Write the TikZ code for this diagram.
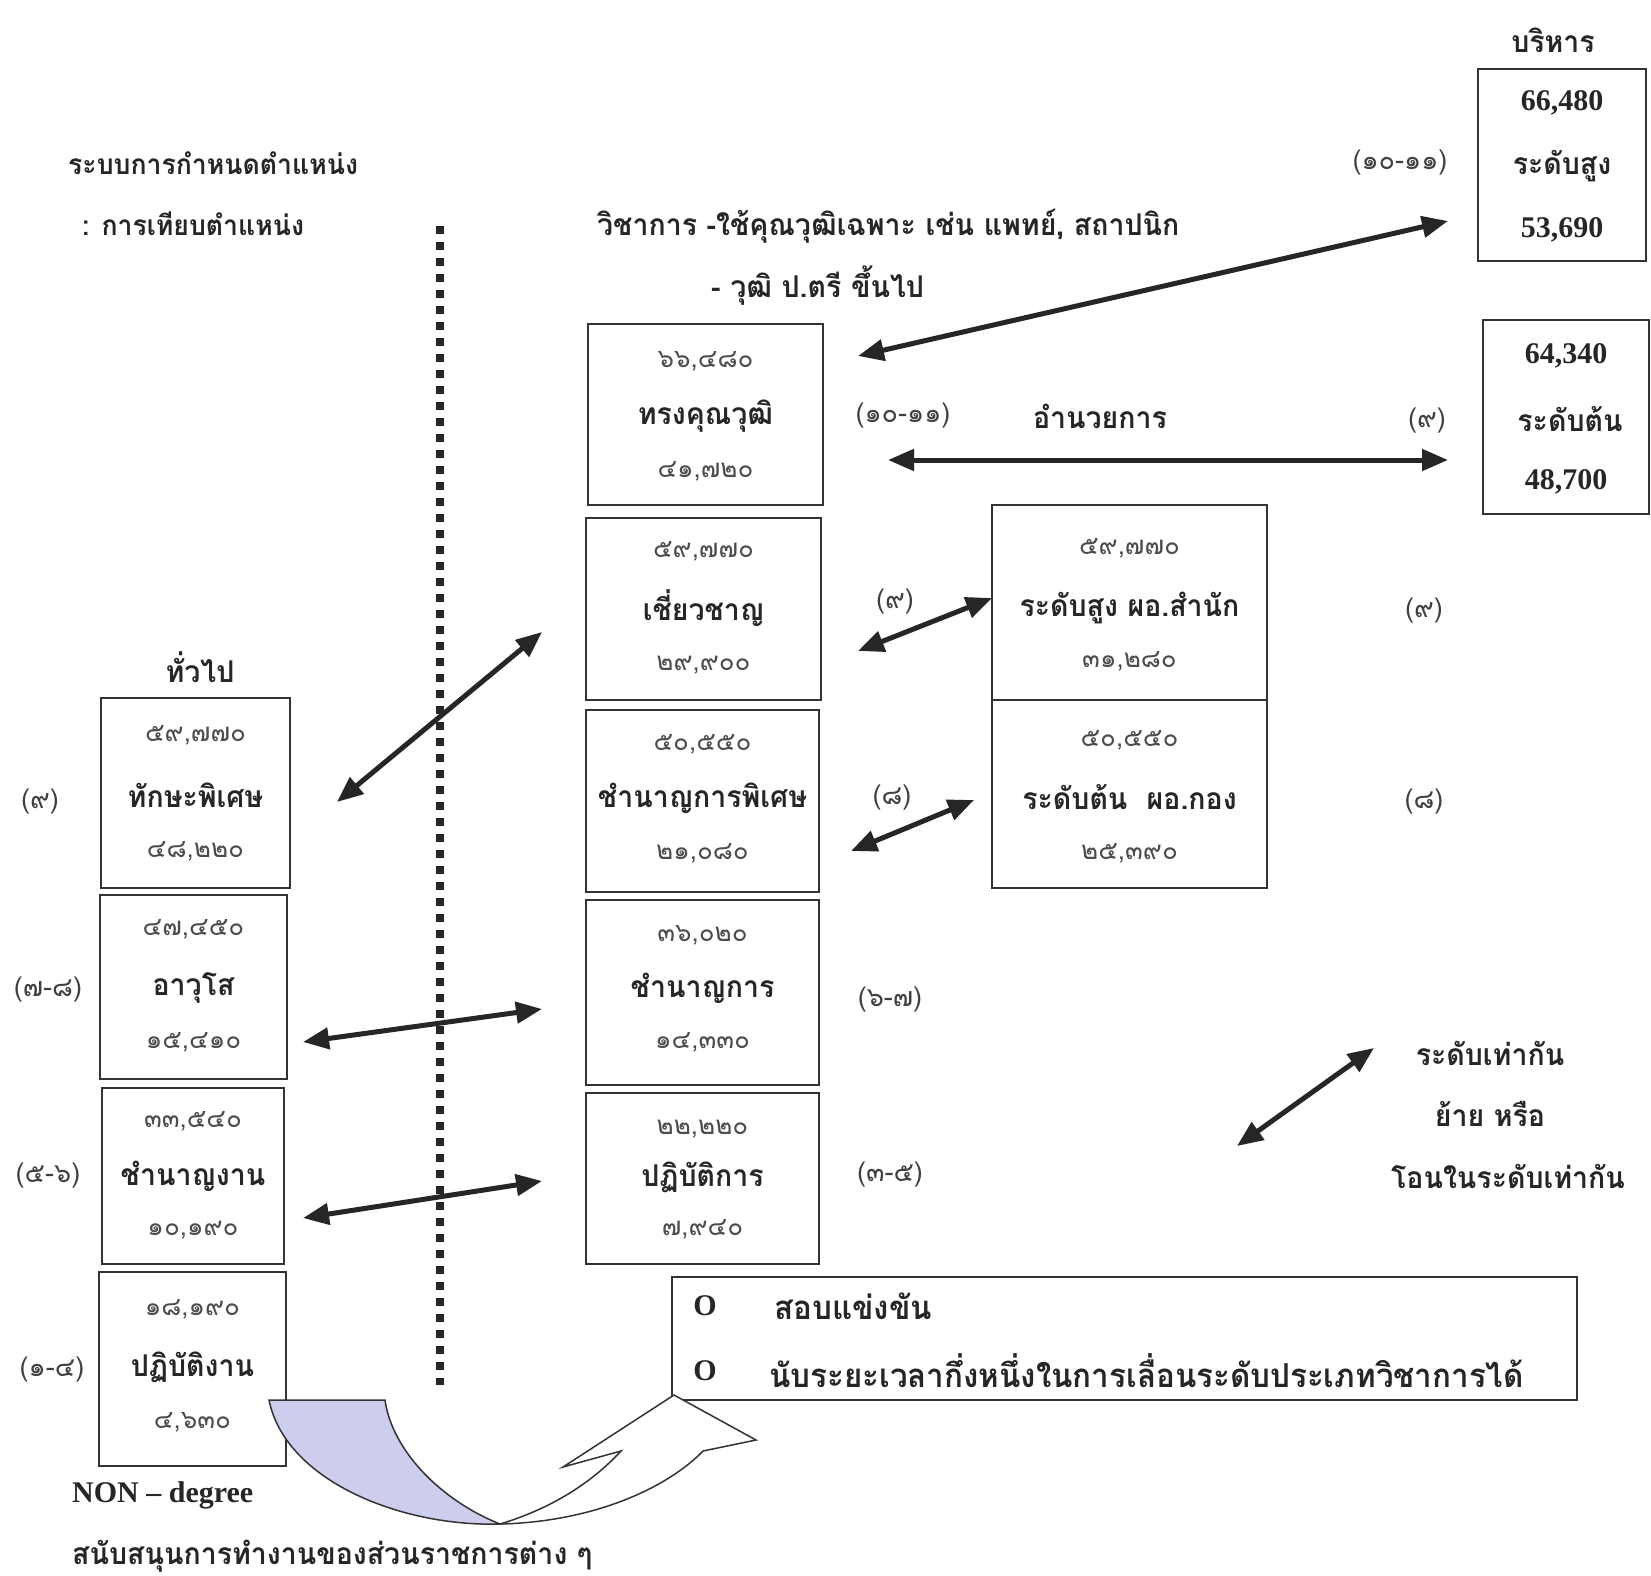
\documentclass[tikz,border=0pt]{standalone}
\usepackage{fontspec}
\setmainfont{Liberation Serif}
\newfontfamily\thai[Script=Thai]{Loma}
\newfontfamily\thaic[Script=Thai,FakeStretch=0.95]{Loma}
\usetikzlibrary{arrows.meta}
\definecolor{lav}{RGB}{205,205,238}
\tikzset{
  box/.style={draw=black!80, line width=2.2pt, inner sep=0pt},
  lbl/.style={font=\thaic\bfseries\fontsize{30}{34}\selectfont, text=black!85, inner sep=0pt},
  lbt/.style={font=\thaic\bfseries\fontsize{28}{32}\selectfont, text=black!85, inner sep=0pt},
  lbg/.style={font=\thaic\bfseries\fontsize{33}{36}\selectfont, text=black!85, inner sep=0pt},
  num/.style={font=\thai\fontsize{26}{30}\selectfont, text=black!70, inner sep=0pt},
  par/.style={font=\thai\fontsize{27}{30}\selectfont, text=black!75, inner sep=0pt},
  lat/.style={font=\bfseries\fontsize{30}{32}\selectfont, text=black!85, inner sep=0pt},
  dbl/.style={{Triangle[length=26pt,width=21pt]}-{Triangle[length=26pt,width=21pt]}, line width=5pt, draw=black!85},
}
\begin{document}
\begin{tikzpicture}[x=1pt,y=-1pt]
\useasboundingbox (0,0) rectangle (1651,1576);
\fill[white] (0,0) rectangle (1651,1576);

% titles
\node[lbt, anchor=west] (t1) at (68,163) {ระบบการกำหนดตำแหน่ง};
\node[lbt, anchor=west] (t2) at (82,224) {: การเทียบตำแหน่ง};
\node[lbl, anchor=west] (t3) at (597,226) {วิชาการ -ใช้คุณวุฒิเฉพาะ เช่น แพทย์, สถาปนิก};
\node[lbl, anchor=west] (t4) at (711,286) {- วุฒิ ป.ตรี ขึ้นไป};
\node[lbl] (t5) at (1553,40) {บริหาร};
\node[lbl] (t6) at (200,667) {ทั่วไป};
\node[lbl] (t7) at (1100,416) {อำนวยการ};

% dotted divider
\coordinate (dtop) at (440,226);
\coordinate (dbot) at (440,1385);
\draw[line width=7.5pt, dash pattern=on 7.5pt off 8.5pt, black!85] (dtop) -- (dbot);

% executive boxes
\node[box, minimum width=168pt, minimum height=192pt] (exhi) at (1562,165) {};
\node[lat] at (1562,103) {66,480};
\node[lbl] at (1562,166) {ระดับสูง};
\node[lat] at (1562,230) {53,690};
\node[box, minimum width=166pt, minimum height=194pt] (exlo) at (1566,417) {};
\node[lat] at (1566,356) {64,340};
\node[lbl] at (1570,419) {ระดับต้น};
\node[lat] at (1566,482) {48,700};
\node[par] at (1400,163) {(๑๐-๑๑)};
\node[par] at (1427,421) {(๙)};

% academic column
\node[box, minimum width=235pt, minimum height=181pt] (ts) at (705.5,414.5) {};
\node[num] at (705.5,361) {๖๖,๔๘๐};
\node[lbl] at (705.5,416) {ทรงคุณวุฒิ};
\node[num] at (705.5,471) {๔๑,๗๒๐};

\node[box, minimum width=235pt, minimum height=182pt] (cc) at (703.5,609) {};
\node[num] at (703.5,551) {๕๙,๗๗๐};
\node[lbl] at (703.5,608) {เชี่ยวชาญ};
\node[num] at (703.5,665) {๒๙,๙๐๐};

\node[box, minimum width=233pt, minimum height=182pt] (cp) at (702.5,801) {};
\node[num] at (702.5,744) {๕๐,๕๕๐};
\node[lbl] at (702.5,798) {ชำนาญการพิเศษ};
\node[num] at (702.5,853) {๒๑,๐๘๐};

\node[box, minimum width=233pt, minimum height=185pt] (ck) at (702.5,992.5) {};
\node[num] at (702.5,935) {๓๖,๐๒๐};
\node[lbl] at (702.5,988) {ชำนาญการ};
\node[num] at (702.5,1042) {๑๔,๓๓๐};

\node[box, minimum width=233pt, minimum height=171pt] (pk) at (702.5,1178.5) {};
\node[num] at (702.5,1129) {๒๒,๒๒๐};
\node[lbl] at (702.5,1177) {ปฏิบัติการ};
\node[num] at (702.5,1229) {๗,๙๔๐};

\node[par] at (903,416) {(๑๐-๑๑)};
\node[par] at (895,602) {(๙)};
\node[par] at (892,798) {(๘)};
\node[par] at (890,1000) {(๖-๗)};
\node[par] at (890,1174) {(๓-๕)};

% director boxes
\node[box, minimum width=275pt, minimum height=195pt] (dh) at (1129.5,602.5) {};
\node[num] at (1129.5,548) {๕๙,๗๗๐};
\node[lbl] at (1129.5,608) {ระดับสูง ผอ.สำนัก};
\node[num] at (1129.5,661) {๓๑,๒๘๐};
\node[box, minimum width=275pt, minimum height=188pt] (dl) at (1129.5,794) {};
\node[num] at (1129.5,740) {๕๐,๕๕๐};
\node[lbl] at (1129.5,797) {ระดับต้น~~ผอ.กอง};
\node[num] at (1129.5,853) {๒๕,๓๙๐};
\node[par] at (1424,611) {(๙)};
\node[par] at (1424,802) {(๘)};

% general column
\node[box, minimum width=189pt, minimum height=190pt] (gts) at (195.5,793) {};
\node[num] at (195.5,735) {๕๙,๗๗๐};
\node[lbl] at (195.5,795) {ทักษะพิเศษ};
\node[num] at (195.5,851) {๔๘,๒๒๐};

\node[box, minimum width=187pt, minimum height=184pt] (gaw) at (193.5,987) {};
\node[num] at (193.5,929) {๔๗,๔๕๐};
\node[lbl] at (193.5,988) {อาวุโส};
\node[num] at (193.5,1042) {๑๕,๔๑๐};

\node[box, minimum width=182pt, minimum height=176pt] (gcn) at (193,1176) {};
\node[num] at (193,1121) {๓๓,๕๔๐};
\node[lbl] at (193,1176) {ชำนาญงาน};
\node[num] at (193,1230) {๑๐,๑๙๐};

\node[box, minimum width=187pt, minimum height=194pt] (gpn) at (192.5,1369) {};
\node[num] at (192.5,1309) {๑๘,๑๙๐};
\node[lbl] at (192.5,1367) {ปฏิบัติงาน};
\node[num] at (192.5,1422) {๔,๖๓๐};

\node[par] at (40,802) {(๙)};
\node[par] at (48,990) {(๗-๘)};
\node[par] at (48,1175) {(๕-๖)};
\node[par] at (52,1369) {(๑-๔)};

% arrows
\coordinate (a1s) at (858,356);  \coordinate (a1e) at (1448,221);
\coordinate (a2s) at (888,460);  \coordinate (a2e) at (1448,460);
\coordinate (a3s) at (858,651);  \coordinate (a3e) at (992,598);
\coordinate (a4s) at (851,851);  \coordinate (a4e) at (974,800);
\coordinate (a5s) at (337,802);  \coordinate (a5e) at (542,632);
\coordinate (a6s) at (303,1042); \coordinate (a6e) at (542,1009);
\coordinate (a7s) at (303,1218); \coordinate (a7e) at (542,1181);
\coordinate (a8s) at (1237,1146); \coordinate (a8e) at (1374,1048);
\foreach \s/\e in {a1s/a1e,a2s/a2e,a3s/a3e,a4s/a4e,a5s/a5e,a6s/a6e,a7s/a7e,a8s/a8e}
  \draw[dbl] (\s) -- (\e);

% legend of arrow
\node[lbl] at (1490,1053) {ระดับเท่ากัน};
\node[lbl] at (1490,1114) {ย้าย หรือ};
\node[lbl] at (1508,1176) {โอนในระดับเท่ากัน};

% bottom box
\node[box, minimum width=905pt, minimum height=123pt] (lg) at (1124.5,1338.5) {};
\node[lat] at (705,1306) {O};
\node[lbg, anchor=west] at (774,1306) {สอบแข่งขัน};
\node[lat] at (705,1371) {O};
\node[lbg, anchor=west] at (769,1371) {นับระยะเวลากึ่งหนึ่งในการเลื่อนระดับประเภทวิชาการได้};

% curved U-turn arrow
\fill[lav, draw=black!80, line width=1.5pt] (269,1400) .. controls (285,1480) and (400,1527) .. (500,1524)
   .. controls (440,1500) and (392,1450) .. (385,1400) -- cycle;
\fill[white, draw=black!80, line width=1.5pt] (500,1524) .. controls (590,1522) and (665,1490) .. (703,1451)
   -- (756,1440) -- (674,1395) -- (563,1467) -- (621,1451)
   .. controls (585,1490) and (540,1512) .. (500,1524) -- cycle;

% bottom texts
\node[lat, anchor=west] at (72,1495) {NON – degree};
\node[lbl, anchor=west] at (72,1556) {สนับสนุนการทำงานของส่วนราชการต่าง ๆ};
\end{tikzpicture}
\end{document}
